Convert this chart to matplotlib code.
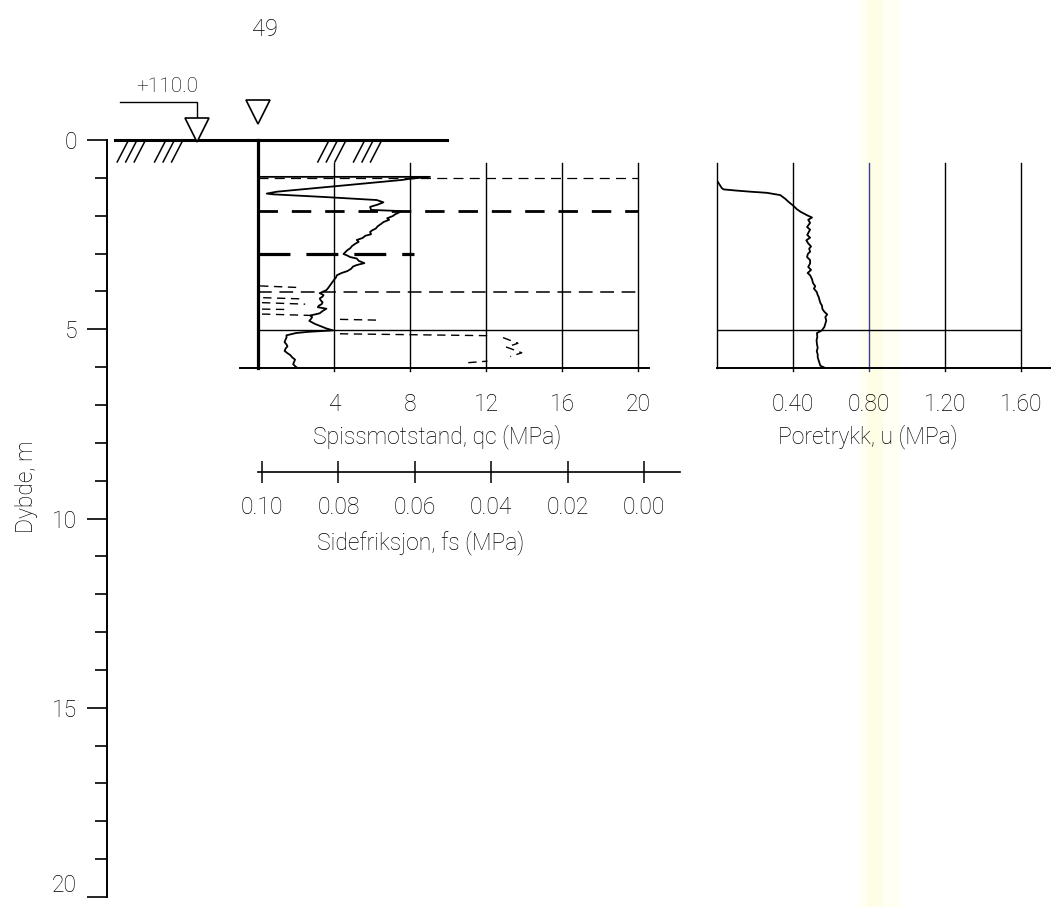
import numpy as np
import matplotlib
matplotlib.use("Agg")
import matplotlib.pyplot as plt

plt.rcParams['font.family'] = ['Roboto', 'DejaVu Sans']
plt.rcParams['font.weight'] = 'light'
plt.rcParams['axes.labelweight'] = 'light'

W, H = 1053, 907

# ---------------- data ----------------
depth_ticks = [0, 5, 10, 15, 20]
depth_minor = list(range(0, 21))
qc_ticks = [4, 8, 12, 16, 20]
fs_ticks = [0.10, 0.08, 0.06, 0.04, 0.02, 0.00]
fs_labels = ['0.10', '0.08', '0.06', '0.04', '0.02', '0.00']
u_ticks = [0.40, 0.80, 1.20, 1.60]
u_labels = ['0.40', '0.80', '1.20', '1.60']
ground_level = '+110.0'
page_no = '49'

# cone resistance qc (MPa) vs depth (m)
qc_depth = [0.97, 0.97, 1.02, 1.05, 1.22, 1.36, 1.41, 1.43, 1.50, 1.58, 1.64, 1.70,
            1.76, 1.84, 1.87, 1.90, 1.96, 2.00, 2.06, 2.10, 2.16, 2.20, 2.27, 2.33,
            2.38, 2.42, 2.48, 2.52, 2.58, 2.63, 2.68, 2.72, 2.79, 2.85, 2.90, 2.95,
            3.00, 3.04, 3.08, 3.12, 3.18, 3.24, 3.29, 3.33, 3.39, 3.45, 3.50, 3.56,
            3.62, 3.68, 3.75, 3.82, 3.89, 3.95, 4.03, 4.08, 4.12, 4.17, 4.22, 4.27,
            4.32, 4.36, 4.40, 4.44, 4.50, 4.56, 4.62, 4.66, 4.70, 4.76, 4.80, 4.84,
            4.90, 4.96, 5.01, 5.05, 5.08, 5.14, 5.20, 5.25, 5.32, 5.38, 5.43, 5.49,
            5.55, 5.61, 5.66, 5.72, 5.78, 5.84, 5.90, 5.95, 5.99]
qc_value = [0.0, 9.05, 8.0, 7.6, 4.0, 1.0, 0.46, 0.8, 3.5, 6.25, 6.6, 6.3,
            5.9, 5.95, 7.5, 7.45, 7.2, 7.1, 6.8, 6.9, 6.6, 6.5, 6.3, 6.2,
            6.0, 5.9, 5.95, 5.65, 5.5, 5.2, 5.3, 5.15, 4.95, 4.85, 4.7, 4.6,
            4.5, 4.7, 4.85, 5.2, 5.3, 5.6, 5.2, 5.0, 4.9, 4.7, 4.4, 4.15,
            4.1, 4.0, 3.9, 3.8, 3.7, 3.6, 3.25, 3.45, 3.4, 3.25, 3.3, 3.4,
            3.35, 3.2, 3.15, 3.6, 3.4, 3.25, 2.75, 2.85, 2.8, 2.7, 2.85, 3.0,
            3.3, 3.6, 3.95, 2.6, 2.0, 1.5, 1.5, 1.45, 1.4, 1.5, 1.55, 1.45,
            1.4, 1.55, 1.7, 1.8, 1.95, 1.9, 1.85, 1.95, 2.05]

# sleeve friction fs (MPa), broken dashed trace (nan = pen up)
fs_depth = [3.84, 3.88, np.nan, 4.15, 4.18, np.nan, 4.28, 4.32, np.nan, 4.45, 4.46, np.nan,
            4.58, 4.62, np.nan, 4.72, 4.74, np.nan, 5.10, 5.13, 5.15, np.nan,
            5.20, 5.35, 5.45, 5.60, 5.70, np.nan, 5.86, 5.82]
fs_value = [0.1005, 0.0908, np.nan, 0.0997, 0.0900, np.nan, 0.1000, 0.0887, np.nan, 0.1000, 0.0940, np.nan,
            0.1000, 0.0860, np.nan, 0.0796, 0.0700, np.nan, 0.0796, 0.0560, 0.0403, np.nan,
            0.0369, 0.0330, 0.0360, 0.0320, 0.0350, np.nan, 0.0460, 0.0410]

# pore pressure u (MPa)
u_depth = [0.97, 1.07, 1.27, 1.30, 1.33, 1.36, 1.39, 1.45, 1.55, 1.63, 1.74, 1.82,
           1.89, 1.98, 2.04, 2.10, 2.18, 2.29, 2.36, 2.42, 2.50, 2.57, 2.64, 2.72,
           2.80, 2.86, 2.94, 3.00, 3.08, 3.16, 3.25, 3.34, 3.42, 3.50, 3.56, 3.66,
           3.76, 3.85, 3.91, 4.00, 4.08, 4.13, 4.22, 4.30, 4.35, 4.45, 4.52, 4.59,
           4.66, 4.75, 4.84, 4.92, 5.01, 5.08, 5.18, 5.27, 5.37, 5.47, 5.56, 5.64,
           5.72, 5.80, 5.88, 5.94, 6.00]
u_value = [0.0, 0.0, 0.026, 0.035, 0.10, 0.175, 0.263, 0.333, 0.36, 0.377, 0.404, 0.42,
           0.44, 0.474, 0.50, 0.48, 0.49, 0.474, 0.49, 0.483, 0.475, 0.49, 0.47, 0.48,
           0.495, 0.485, 0.49, 0.478, 0.474, 0.49, 0.49, 0.48, 0.495, 0.477, 0.49, 0.50,
           0.505, 0.517, 0.51, 0.525, 0.53, 0.535, 0.54, 0.545, 0.552, 0.555, 0.565, 0.58,
           0.57, 0.575, 0.57, 0.565, 0.552, 0.526, 0.528, 0.524, 0.526, 0.53, 0.525, 0.53,
           0.53, 0.535, 0.54, 0.544, 0.57]

# layer boundaries drawn across the qc panel: depth, line width, dash pattern, right end (MPa)
boundary_depth = [1.0, 1.87, 3.0, 4.0]
boundary_lw = [0.9, 2.0, 2.3, 1.1]
boundary_dash = [(8, 5), (7, 5), (10, 5), (9, 5)]
boundary_end = [20.0, 20.0, 8.2, 20.0]

ink = '#000000'
fs_lbl = 16.5


def px_axes(x0, y0, x1, y1):
    return fig.add_axes([x0 / W, 1 - y1 / H, (x1 - x0) / W, (y1 - y0) / H])


def bare(ax):
    for s in ax.spines.values():
        s.set_visible(False)
    ax.set_facecolor('none')


fig = plt.figure(figsize=(W / 100, H / 100), dpi=100)
fig.patch.set_facecolor('white')

# ---------------- depth axis ----------------
ax0 = px_axes(107, 140, 447, 897)
bare(ax0)
ax0.spines['left'].set_visible(True)
ax0.spines['left'].set_linewidth(1.4)
ax0.spines['left'].set_color(ink)
ax0.set_ylim(20, 0)
ax0.set_xlim(0, 1)
ax0.set_xticks([])
ax0.set_yticks(depth_ticks)
ax0.set_yticks(depth_minor, minor=True)
ax0.tick_params(axis='y', which='major', length=14.5, width=1.2, pad=7,
                labelsize=fs_lbl, colors=ink)
ax0.tick_params(axis='y', which='minor', length=8.5, width=1.2)
ax0.get_yticklabels()[-1].set_va('bottom')
ax0.set_ylabel('Dybde, m', fontsize=fs_lbl, color=ink, fontweight='light')
ax0.yaxis.set_label_coords(-0.203, 0.542)

ty = ax0.get_yaxis_transform()
# ground surface
ax0.plot([0.024, 1.0], [0, 0], color=ink, lw=2.2, transform=ty, clip_on=False)
# hatching under ground
for x in [0.03, 0.055, 0.08, 0.14, 0.165, 0.19, 0.62, 0.645, 0.67, 0.725, 0.75, 0.775]:
    ax0.plot([x, x + 0.03], [0.58, 0.06], color=ink, lw=1.1, transform=ty, clip_on=False)
# elevation marker with leader
ax0.plot([0.038, 0.266, 0.266], [-1.01, -1.01, -0.53], color=ink, lw=1.0,
         transform=ty, clip_on=False)
ax0.plot([0.266], [-0.27], marker='v', ms=17, mfc='white', mec=ink, mew=1.2,
         transform=ty, clip_on=False)
ax0.text(0.176, -1.42, ground_level, fontsize=15, ha='center', va='center',
         transform=ty, color=ink)
# water level marker above sounding
ax0.plot([0.444], [-0.73], marker='v', ms=17, mfc='white', mec=ink, mew=1.2,
         transform=ty, clip_on=False)

fig.text(265 / W, 1 - 30 / H, page_no, fontsize=17, ha='center', va='center', color=ink)

# ---------------- qc / fs panel ----------------
ax1 = px_axes(258, 140, 638, 368)
bare(ax1)
ax1.set_xlim(0, 20)
ax1.set_ylim(6, 0)
ax1.set_yticks([])
ax1.set_xticks(qc_ticks)
ax1.tick_params(axis='x', length=0, pad=18, labelsize=fs_lbl, colors=ink)
for v in qc_ticks:
    ax1.plot([v, v], [0.6, 6.08], color=ink, lw=1.0, clip_on=False)
ax1.plot([0, 0], [0, 6], color=ink, lw=2.3, clip_on=False)
ax1.plot([-0.95, 20.6], [6, 6], color=ink, lw=1.4, clip_on=False)
ax1.plot([0, 20], [5, 5], color=ink, lw=1.0)
for d, lw, dash, end in zip(boundary_depth, boundary_lw, boundary_dash, boundary_end):
    ax1.plot([0, end], [d, d], color=ink, lw=lw, dashes=dash)
ax1.plot(qc_value, qc_depth, color=ink, lw=1.3, zorder=5)
ax1.text(0.471, -0.30, 'Spissmotstand, qc (MPa)', transform=ax1.transAxes,
         ha='center', va='center', fontsize=fs_lbl, color=ink)

fs_left = 0.10 + 4 / 3820
axf = ax1.twiny()
bare(axf)
axf.set_xlim(fs_left, 0.10 - 376 / 3820)
axf.set_xticks([])
axf.plot(fs_value, fs_depth, color=ink, lw=1.0, dashes=(6, 4))

# fs scale strip
ax2 = px_axes(258, 471, 680, 472)
bare(ax2)
ax2.spines['bottom'].set_visible(True)
ax2.spines['bottom'].set_linewidth(1.2)
ax2.spines['bottom'].set_color(ink)
ax2.set_xlim(fs_left, 0.10 - 418 / 3820)
ax2.set_yticks([])
ax2.set_xticks(fs_ticks)
ax2.set_xticklabels(fs_labels)
ax2.tick_params(axis='x', direction='inout', length=16, width=1.1, pad=9,
                labelsize=fs_lbl, colors=ink)
ax2.text((421 - 258) / 422, -71, 'Sidefriksjon, fs (MPa)', transform=ax2.transAxes,
         ha='center', va='center', fontsize=fs_lbl, color=ink)

# ---------------- pore pressure panel ----------------
ax3 = px_axes(717, 140, 1021, 368)
bare(ax3)
ax3.set_xlim(0, 1.6)
ax3.set_ylim(6, 0)
ax3.set_yticks([])
ax3.set_xticks(u_ticks)
ax3.set_xticklabels(u_labels)
ax3.tick_params(axis='x', length=0, pad=18, labelsize=fs_lbl, colors=ink)
# faint yellow highlighter streak of the scanned page
ax3.axvspan(0.75, 0.965, ymin=-2.37, ymax=1.62, color='#fffff4', lw=0, clip_on=False, zorder=-2)
ax3.axvspan(0.79, 0.875, ymin=-2.37, ymax=1.62, color='#fefee6', lw=0, clip_on=False, zorder=-1)
ax3.plot([0, 0], [0.6, 6], color=ink, lw=1.0, clip_on=False)
for v in u_ticks:
    c = '#3d3d9a' if v == 0.80 else ink
    ax3.plot([v, v], [0.6, 6.08], color=c, lw=1.0, clip_on=False)
ax3.plot([0, 1.753], [6, 6], color=ink, lw=1.4, clip_on=False)
ax3.plot([0, 1.6], [5, 5], color=ink, lw=1.0)
ax3.plot(u_value, u_depth, color=ink, lw=1.3, zorder=5)
ax3.text(0.497, -0.30, 'Poretrykk, u (MPa)', transform=ax3.transAxes,
         ha='center', va='center', fontsize=fs_lbl, color=ink)

fig.savefig('out.png', dpi=100)
